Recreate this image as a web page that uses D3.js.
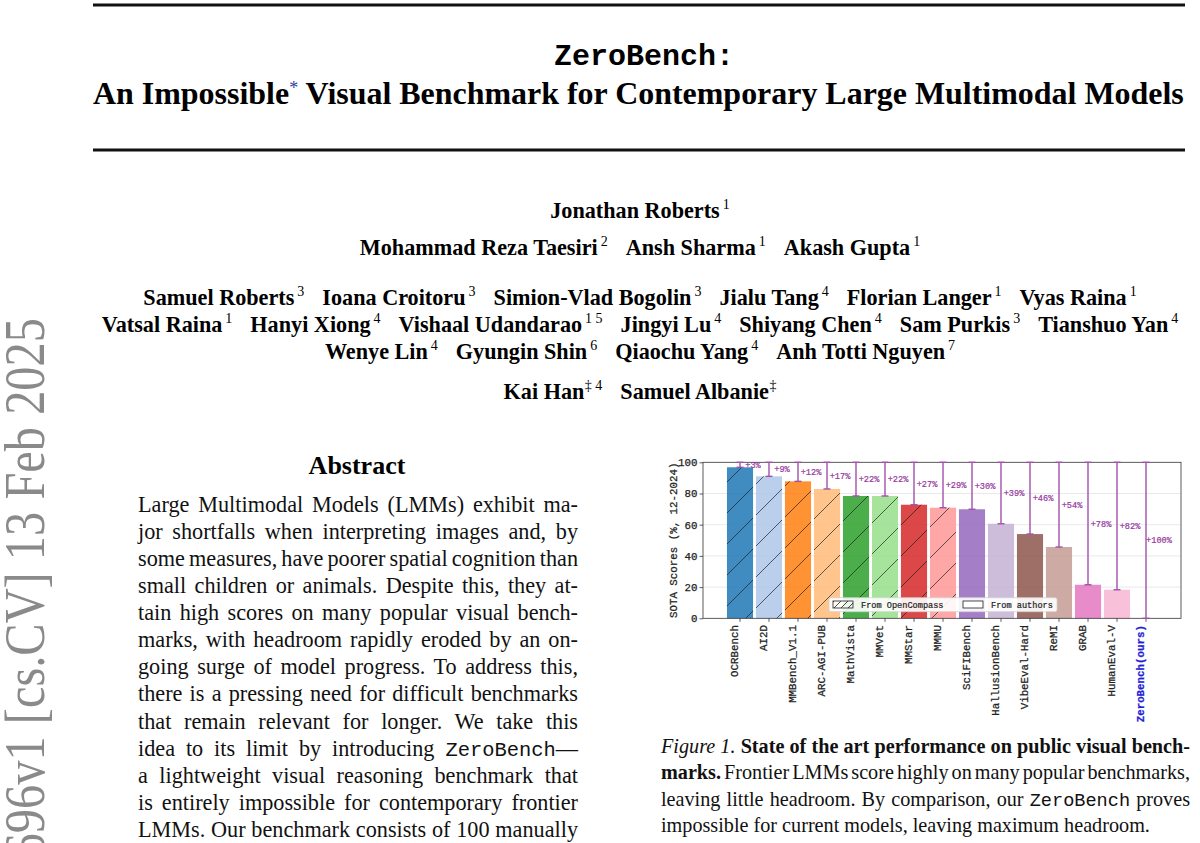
<!DOCTYPE html>
<html>
<head>
<meta charset="utf-8">
<script src="https://cdn.jsdelivr.net/npm/d3@7"></script>
<style>
  html, body { margin: 0; padding: 0; background: #fff; }
  svg { display: block; }
</style>
</head>
<body>
<div id="page"></div>
<script>
// chart data
const benchmarks = ["OCRBench", "AI2D", "MMBench_V1.1", "ARC-AGI-PUB", "MathVista", "MMVet", "MMStar", "MMMU",
  "SciFIBench", "HallusionBench", "VibeEval-Hard", "ReMI", "GRAB", "HumanEval-V", "ZeroBench(ours)"];
const scores = [96.8, 91, 87.8, 82.9, 78.4, 78.4, 72.8, 70.9, 69.9, 60.6, 54, 45.7, 21.5, 18.3, 0];
const headroom = ["+3%", "+9%", "+12%", "+17%", "+22%", "+22%", "+27%", "+29%", "+30%", "+39%", "+46%", "+54%", "+78%", "+82%", "+100%"];
const sources = ["OpenCompass", "OpenCompass", "OpenCompass", "OpenCompass", "OpenCompass", "OpenCompass", "OpenCompass", "OpenCompass",
  "authors", "authors", "authors", "authors", "authors", "authors", "ours"];
const barColors = ["#1f77b4", "#aec7e8", "#ff7f0e", "#ffbb78", "#2ca02c", "#98df8a", "#d62728", "#ff9896",
  "#9467bd", "#c5b0d5", "#8c564b", "#c49c94", "#e377c2", "#f7b6d2", "#7f7f7f"];
const yTicks = [0, 20, 40, 60, 80, 100];
const legendLabels = ["From OpenCompass", "From authors"];

// page text
const authorRows = [
  [["Jonathan Roberts", "1"]],
  [["Mohammad Reza Taesiri", "2"], ["Ansh Sharma", "1"], ["Akash Gupta", "1"]],
  [["Samuel Roberts", "3"], ["Ioana Croitoru", "3"], ["Simion-Vlad Bogolin", "3"], ["Jialu Tang", "4"], ["Florian Langer", "1"], ["Vyas Raina", "1"]],
  [["Vatsal Raina", "1"], ["Hanyi Xiong", "4"], ["Vishaal Udandarao", "1 5"], ["Jingyi Lu", "4"], ["Shiyang Chen", "4"], ["Sam Purkis", "3"], ["Tianshuo Yan", "4"]],
  [["Wenye Lin", "4"], ["Gyungin Shin", "6"], ["Qiaochu Yang", "4"], ["Anh Totti Nguyen", "7"]],
  [["Kai Han", "‡ 4"], ["Samuel Albanie", "‡"]]
];
const authorBaselines = [218, 255, 305, 332, 359, 399];

const abstractLines = [
  "Large Multimodal Models (LMMs) exhibit ma-",
  "jor shortfalls when interpreting images and, by",
  "some measures, have poorer spatial cognition than",
  "small children or animals. Despite this, they at-",
  "tain high scores on many popular visual bench-",
  "marks, with headroom rapidly eroded by an on-",
  "going surge of model progress. To address this,",
  "there is a pressing need for difficult benchmarks",
  "that remain relevant for longer. We take this",
  "idea to its limit by introducing `ZeroBench`—",
  "a lightweight visual reasoning benchmark that",
  "is entirely impossible for contemporary frontier",
  "LMMs. Our benchmark consists of 100 manually"
];
const captionLines = [
  "_Figure 1._ **State of the art performance on public visual bench-**",
  "**marks.** Frontier LMMs score highly on many popular benchmarks,",
  "leaving little headroom. By comparison, our `ZeroBench` proves",
  "impossible for current models, leaving maximum headroom."
];

const W = 1200, H = 843;
const serif = "'Liberation Serif', 'Times New Roman', serif";
const mono = "'Liberation Mono', 'Courier New', monospace";

const svg = d3.select("#page").append("svg")
  .attr("width", W).attr("height", H);

// arXiv stamp on the left margin (condensed along its length)
svg.append("text")
  .attr("transform", "translate(44,318) rotate(-90) scale(0.865,1)")
  .attr("text-anchor", "end")
  .style("font-family", serif)
  .style("font-size", "56px")
  .style("fill", "#8a8a8a")
  .text("arXiv:2502.09696v1 [cs.CV] 13 Feb 2025");

// title block
svg.append("line").attr("x1", 93).attr("x2", 1185).attr("y1", 5).attr("y2", 5)
  .attr("stroke", "#111").attr("stroke-width", 3);
svg.append("line").attr("x1", 93).attr("x2", 1185).attr("y1", 150).attr("y2", 150)
  .attr("stroke", "#111").attr("stroke-width", 3);

svg.append("text")
  .attr("x", 644).attr("y", 65)
  .attr("text-anchor", "middle")
  .style("font-family", mono).style("font-weight", "bold").style("font-size", "30px")
  .text("ZeroBench:");

const title2 = svg.append("text")
  .attr("x", 93).attr("y", 104)
  .style("font-family", serif).style("font-weight", "bold").style("font-size", "29px");
title2.append("tspan").text("An Impossible");
title2.append("tspan").attr("dy", -10).style("font-size", "18px").style("font-weight", "normal")
  .style("fill", "#2b3f9e").text("*");
title2.append("tspan").attr("dy", 10).text(" Visual Benchmark for Contemporary Large Multimodal Models");
// stretch font to the rule width
{
  const w = title2.node().getComputedTextLength();
  title2.style("font-size", (29 * 1092 / w) + "px");
}

// authors
authorRows.forEach((row, r) => {
  const t = svg.append("text")
    .attr("x", 640).attr("y", authorBaselines[r])
    .attr("text-anchor", "middle")
    .style("font-family", serif).style("font-weight", "bold").style("font-size", "22.2px");
  row.forEach((a, i) => {
    t.append("tspan").attr("dx", i === 0 ? 0 : 18).attr("dy", i === 0 ? 0 : 9).text(a[0]);
    t.append("tspan").attr("dx", a[1].startsWith("‡") ? 0.5 : 3).attr("dy", -9)
      .style("font-size", "14px").style("font-weight", "normal").text(a[1]);
  });
});

// justified text helper: segments marked with ** (bold), _ (italic), ` (mono)
function writeLine(x, y, str, size) {
  const t = svg.append("text").attr("x", x).attr("y", y)
    .style("font-family", serif).style("font-size", size + "px").style("fill", "#111");
  str.split(/(\*\*[^*]+\*\*|`[^`]+`|_[^_]+_)/).filter(s => s.length).forEach(s => {
    const sp = t.append("tspan");
    if (s.startsWith("**")) sp.style("font-weight", "bold").text(s.slice(2, -2));
    else if (s.startsWith("`")) sp.style("font-family", mono).style("font-size", (size * 0.92) + "px").text(s.slice(1, -1));
    else if (s.startsWith("_")) sp.style("font-style", "italic").text(s.slice(1, -1));
    else sp.text(s);
  });
  return t;
}
function justify(t, width) {
  t.attr("word-spacing", 0);
  const w = t.node().getComputedTextLength();
  const n = (t.node().textContent.match(/ /g) || []).length;
  if (n) t.attr("word-spacing", (width - w) / n);
}
function paragraph(x, y0, lead, width, lines, size, autoSize, lastFlush) {
  let f = size;
  if (autoSize) {
    // size so that the tightest line sets close to naturally
    const probe = lines.map(s => writeLine(x, -100, s, size));
    const maxW = d3.max(probe, t => t.node().getComputedTextLength());
    probe.forEach(t => t.remove());
    f = size * width / maxW * 1.02;
  }
  lines.forEach((s, i) => {
    const t = writeLine(x, y0 + i * lead, s, f);
    if (!(lastFlush && i === lines.length - 1)) justify(t, width);
  });
}

// abstract
svg.append("text")
  .attr("x", 357).attr("y", 474)
  .attr("text-anchor", "middle")
  .style("font-family", serif).style("font-weight", "bold").style("font-size", "26px")
  .text("Abstract");
paragraph(138, 511.7, 27.1, 440, abstractLines, 20, true, false);

// caption
paragraph(661, 753, 26.4, 529, captionLines, 20.2, false, true);

// ---------------- the chart ----------------
const plot = {left: 703, right: 1181, top: 462.3, bottom: 618.3};

const x = d3.scaleBand()
  .domain(benchmarks)
  .range([725.5, 1160.5])
  .paddingInner(0.1)
  .paddingOuter(0.05);

const y = d3.scaleLinear()
  .domain([0, 100])
  .range([plot.bottom, plot.top]);

const defs = svg.append("defs");
const s = 31;
defs.append("pattern")
  .attr("id", "hatch")
  .attr("patternUnits", "userSpaceOnUse")
  .attr("width", s).attr("height", s)
  .append("path")
  .attr("d", `M-2,2 L2,-2 M0,${s} L${s},0 M${s - 2},${s + 2} L${s + 2},${s - 2}`)
  .attr("stroke", "#1a1a1a").attr("stroke-width", 0.8);
const s2 = 7;
defs.append("pattern")
  .attr("id", "hatchSmall")
  .attr("patternUnits", "userSpaceOnUse")
  .attr("width", s2).attr("height", s2)
  .append("path")
  .attr("d", `M-1,1 L1,-1 M0,${s2} L${s2},0 M${s2 - 1},${s2 + 1} L${s2 + 1},${s2 - 1}`)
  .attr("stroke", "#1a1a1a").attr("stroke-width", 0.8);

// gridlines
svg.append("g")
  .selectAll("line")
  .data(yTicks.filter(d => d > 0 && d < 100))
  .join("line")
  .attr("x1", plot.left).attr("x2", plot.right)
  .attr("y1", d => y(d)).attr("y2", d => y(d))
  .attr("stroke", "#e3e3e3").attr("stroke-width", 0.8);

// bars
svg.append("g")
  .selectAll("rect")
  .data(benchmarks)
  .join("rect")
  .attr("x", d => x(d))
  .attr("y", (d, i) => y(scores[i]))
  .attr("width", x.bandwidth())
  .attr("height", (d, i) => y(0) - y(scores[i]))
  .attr("fill", (d, i) => barColors[i])
  .attr("fill-opacity", 0.85);

// hatching for OpenCompass-sourced bars
svg.append("g")
  .selectAll("rect")
  .data(benchmarks.filter((d, i) => sources[i] === "OpenCompass"))
  .join("rect")
  .attr("x", d => x(d))
  .attr("y", d => y(scores[benchmarks.indexOf(d)]))
  .attr("width", x.bandwidth())
  .attr("height", d => y(0) - y(scores[benchmarks.indexOf(d)]))
  .attr("fill", "url(#hatch)")
  .attr("opacity", 0.85);

// axes
const tickFont = sel => sel.style("font-family", mono).style("font-size", "10.8px")
  .style("stroke-width", 0.25);

const yAxis = svg.append("g")
  .attr("transform", `translate(${plot.left},0)`)
  .call(d3.axisLeft(y).tickValues(yTicks).tickSize(3.5).tickPadding(2));
yAxis.selectAll("text").call(tickFont).style("fill", "#222").style("stroke", "#222");

const xAxis = svg.append("g")
  .attr("transform", `translate(0,${plot.bottom})`)
  .call(d3.axisBottom(x).tickSize(3.5).tickSizeOuter(0));
xAxis.selectAll("text")
  .attr("transform", "rotate(-90)")
  .attr("text-anchor", "end")
  .attr("x", -6.8).attr("y", -2.5).attr("dy", 0)
  .call(tickFont)
  .style("fill", d => sources[benchmarks.indexOf(d)] === "ours" ? "#1f1fd8" : "#222")
  .style("stroke", d => sources[benchmarks.indexOf(d)] === "ours" ? "#1f1fd8" : "#222")
  .style("font-weight", d => sources[benchmarks.indexOf(d)] === "ours" ? "bold" : "normal");
svg.selectAll(".domain").remove();
svg.selectAll(".tick line").attr("stroke", "#333").attr("stroke-width", 0.8);

svg.append("rect")
  .attr("x", plot.left).attr("y", plot.top)
  .attr("width", plot.right - plot.left).attr("height", plot.bottom - plot.top)
  .attr("fill", "none").attr("stroke", "#333").attr("stroke-width", 0.8);

svg.append("text")
  .attr("transform", `translate(677,${(plot.top + plot.bottom) / 2}) rotate(-90)`)
  .attr("text-anchor", "middle")
  .call(tickFont).style("fill", "#222").style("stroke", "#222")
  .text("SOTA Scores (%, 12-2024)");

// headroom error bars up to 100
const purple = "#a251ab";
const err = svg.append("g").attr("stroke", purple).attr("stroke-width", 1.4);
benchmarks.forEach((d, i) => {
  const cx = x(d) + x.bandwidth() / 2;
  err.append("line").attr("x1", cx).attr("x2", cx).attr("y1", y(scores[i])).attr("y2", y(100));
  [scores[i], 100].forEach(v => {
    err.append("line").attr("x1", cx - 3.5).attr("x2", cx + 3.5).attr("y1", y(v)).attr("y2", y(v));
  });
});

svg.append("g")
  .selectAll("text")
  .data(benchmarks)
  .join("text")
  .attr("x", d => x(d) + x.bandwidth() / 2 + 13)
  .attr("y", (d, i) => (y(scores[i]) + y(100)) / 2)
  .attr("dy", "0.35em")
  .attr("text-anchor", "middle")
  .style("font-family", mono).style("font-size", "8.6px")
  .style("fill", "#96379e").style("stroke", "#96379e").style("stroke-width", 0.2)
  .text((d, i) => headroom[i]);

// legend
const lg = svg.append("g");
lg.append("rect")
  .attr("x", 829).attr("y", 597.7).attr("width", 228).attr("height", 14).attr("rx", 2)
  .attr("fill", "#fff").attr("fill-opacity", 0.9)
  .attr("stroke", "#d0d0d0").attr("stroke-width", 0.8);
const legendX = [833, 963];
legendLabels.forEach((lab, i) => {
  lg.append("rect")
    .attr("x", legendX[i]).attr("y", 601).attr("width", 20).attr("height", 7)
    .attr("fill", i === 0 ? "url(#hatchSmall)" : "#fff")
    .attr("stroke", "#222").attr("stroke-width", 0.8);
  lg.append("text")
    .attr("x", legendX[i] + 28).attr("y", 607.6)
    .style("font-family", mono).style("font-size", "8.6px")
    .style("fill", "#222").style("stroke", "#222").style("stroke-width", 0.2)
    .text(lab);
});
</script>
</body>
</html>
